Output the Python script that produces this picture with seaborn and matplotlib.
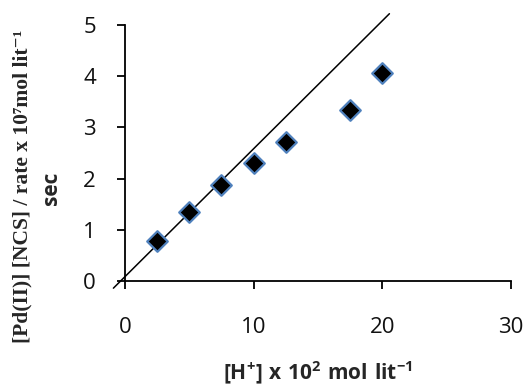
import matplotlib
matplotlib.use("Agg")
import matplotlib.pyplot as plt
import seaborn as sns
import pandas as pd

# data
h_conc = [2.5, 5.0, 7.5, 10.0, 12.5, 17.5, 20.0]
ratio = [0.79, 1.35, 1.87, 2.31, 2.72, 3.33, 4.06]
trend_x = [-0.9, 20.55]
trend_y = [-0.14, 5.22]
x_ticks = [0, 10, 20, 30]
y_ticks = [0, 1, 2, 3, 4, 5]

sns.set_theme(style="ticks")
plt.rcParams['font.family'] = ['Open Sans', 'DejaVu Sans']
plt.rcParams['mathtext.fontset'] = 'custom'
plt.rcParams['mathtext.rm'] = 'Open Sans:bold'
plt.rcParams['mathtext.bf'] = 'Open Sans:bold'
plt.rcParams['mathtext.it'] = 'Open Sans:bold'

fig = plt.figure(figsize=(5.26, 3.88), dpi=100)
ax = fig.add_axes([0.2376, 0.2758, 0.9715 - 0.2376, 0.9356 - 0.2758])

df = pd.DataFrame({"x": h_conc, "y": ratio})
tr = pd.DataFrame({"x": trend_x, "y": trend_y})

sns.lineplot(data=tr, x="x", y="y", ax=ax, color="black", linewidth=1.1,
             clip_on=False, zorder=2)
sns.scatterplot(data=df, x="x", y="y", ax=ax, marker="D", s=110,
                color="black", edgecolor="#4F81BD", linewidth=1.6, zorder=3,
                clip_on=False)

ax.set_xlim(0, 30)
ax.set_ylim(0, 5)
ax.set_xticks(x_ticks)
ax.set_yticks(y_ticks)
ax.tick_params(axis="both", labelsize=16, direction="out", length=6, width=1.3,
               color="black", labelcolor="#111111")
ax.tick_params(axis="x", pad=20)
ax.tick_params(axis="y", pad=15)
for s in ["top", "right"]:
    ax.spines[s].set_visible(False)
for s in ["left", "bottom"]:
    ax.spines[s].set_linewidth(1.3)
    ax.spines[s].set_color("black")

ax.set_xlabel("")
ax.set_ylabel("")

fig.text(0.605, 0.038, r"$\mathbf{[H^{+}]\ x\ 10^{2}\ mol\ lit^{-1}}$",
         ha="center", va="center", fontsize=15)

fig.text(0.042, 0.519, "[Pd(II)] [NCS] / rate x 10⁷mol lit⁻¹",
         rotation=90, ha="center", va="center", fontsize=15.5,
         fontweight="bold", family=["Liberation Serif", "DejaVu Serif"])
fig.text(0.098, 0.515, "sec", rotation=90, ha="center", va="center",
         fontsize=15, fontweight="bold")

fig.savefig("out.png", dpi=100)
